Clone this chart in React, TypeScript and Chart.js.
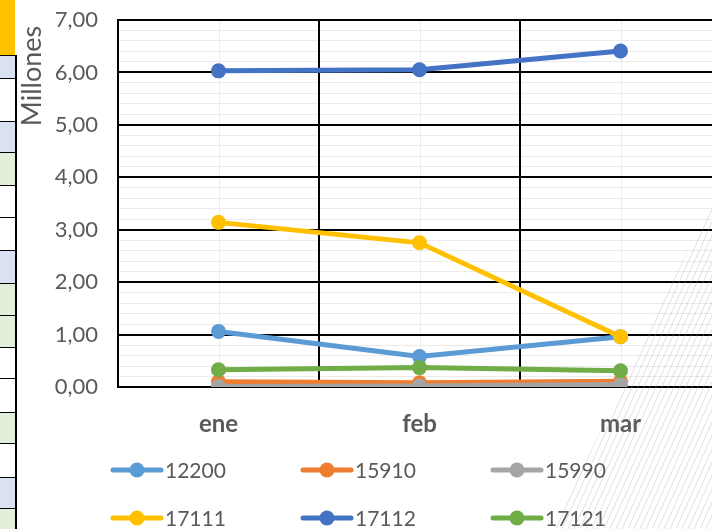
import React, { useEffect, useRef } from "react";
import { Chart, registerables } from "chart.js";

Chart.register(...registerables);

const categories = ["ene", "feb", "mar"];
const seriesNames = ["12200", "15910", "15990", "17111", "17112", "17121"];
const s12200 = [1.06, 0.58, 0.96];
const s15910 = [0.1, 0.08, 0.11];
const s15990 = [0.01, 0.02, 0.05];
const s17111 = [3.14, 2.75, 0.96];
const s17112 = [6.03, 6.05, 6.41];
const s17121 = [0.33, 0.37, 0.31];
const seriesValues = [s12200, s15910, s15990, s17111, s17112, s17121];
const seriesColors = ["#5B9BD5", "#ED7D31", "#A5A5A5", "#FFC000", "#4472C4", "#70AD47"];
const yMin = 0;
const yMax = 7;
const yStep = 0.2;
const axisUnitLabel = "Millones";

const FONT = "Lato, 'Open Sans', sans-serif";
const TEXT = "#595959";

const isMajor = (v: number) => Math.abs(v - Math.round(v)) < 1e-6;

const cellColors = [
  "#D9E1F2", "#FFFFFF", "#D9E1F2", "#E2EFDA", "#FFFFFF", "#FFFFFF", "#D9E1F2", "#E2EFDA",
  "#E2EFDA", "#FFFFFF", "#FFFFFF", "#E2EFDA", "#FFFFFF", "#D9E1F2", "#E2EFDA",
];
const cellEdges = [55, 78, 121, 152, 185, 217, 250, 283, 315, 347, 378, 412, 443, 477, 508, 540];

const decoPlugin = {
  id: "deco",
  beforeDraw(chart: any) {
    const { ctx, chartArea, scales } = chart;
    ctx.save();
    ctx.fillStyle = "#FFFFFF";
    ctx.fillRect(0, 0, chart.width, chart.height);
    ctx.strokeStyle = "#EBEBEB";
    ctx.lineWidth = 1;
    categories.forEach((_, i) => {
      const x = Math.round(scales.x.getPixelForValue(i)) + 0.5;
      ctx.beginPath();
      ctx.moveTo(x, chartArea.top);
      ctx.lineTo(x, chartArea.bottom);
      ctx.stroke();
    });
    ctx.restore();
  },
  afterDraw(chart: any) {
    const { ctx } = chart;
    ctx.save();
    ctx.translate(32, 76);
    ctx.rotate(-Math.PI / 2);
    ctx.fillStyle = TEXT;
    ctx.font = `27px ${FONT}`;
    ctx.textAlign = "center";
    ctx.textBaseline = "middle";
    ctx.fillText(axisUnitLabel, 0, 0);
    ctx.restore();

    ctx.save();
    seriesNames.forEach((name, i) => {
      const col = i % 3;
      const row = Math.floor(i / 3);
      const x0 = 113 + col * 190;
      const y = 470 + row * 48;
      ctx.strokeStyle = seriesColors[i];
      ctx.lineWidth = 5;
      ctx.lineCap = "round";
      ctx.beginPath();
      ctx.moveTo(x0, y);
      ctx.lineTo(x0 + 48, y);
      ctx.stroke();
      ctx.fillStyle = seriesColors[i];
      ctx.beginPath();
      ctx.arc(x0 + 24, y, 7.5, 0, Math.PI * 2);
      ctx.fill();
      ctx.fillStyle = TEXT;
      ctx.font = `21px ${FONT}`;
      ctx.textAlign = "left";
      ctx.textBaseline = "middle";
      ctx.fillText(name, x0 + 52, y + 1);
    });
    ctx.restore();

    ctx.save();
    ctx.beginPath();
    ctx.moveTo(712, 200);
    ctx.lineTo(740, 200);
    ctx.lineTo(740, 529);
    ctx.lineTo(553, 529);
    ctx.closePath();
    ctx.clip();
    ctx.strokeStyle = "rgba(165,165,165,0.5)";
    ctx.lineWidth = 0.7;
    for (let x = 400; x < 760; x += 6) {
      ctx.beginPath();
      ctx.moveTo(x, 529);
      ctx.lineTo(x + 0.45 * 340, 189);
      ctx.stroke();
    }
    ctx.restore();
  },
};

export default function App() {
  const ref = useRef<HTMLCanvasElement | null>(null);
  useEffect(() => {
    if (!ref.current) return;
    const chart = new Chart(ref.current, {
      type: "line",
      data: {
        labels: categories,
        datasets: seriesNames.map((name, i) => ({
          label: name,
          data: seriesValues[i],
          borderColor: seriesColors[i],
          backgroundColor: seriesColors[i],
          borderWidth: 5,
          pointRadius: 7.5,
          pointBorderWidth: 0,
          pointBackgroundColor: seriesColors[i],
          tension: 0,
          order: seriesNames.length - i,
        })),
      },
      options: {
        animation: false,
        responsive: false,
        devicePixelRatio: 1,
        layout: { padding: { left: 0, right: 19, top: 20, bottom: 0 } },
        plugins: { legend: { display: false }, tooltip: { enabled: false } },
        scales: {
          x: {
            type: "category",
            offset: true,
            grid: { offset: true, color: "#000000", lineWidth: 2, drawTicks: false, z: -1 },
            border: { display: true, color: "#000000", width: 2 },
            ticks: {
              padding: 23,
              color: TEXT,
              font: { family: FONT, size: 24, weight: "bold" },
            },
            afterFit: (s: any) => {
              s.height = 142;
              s.paddingLeft = 0;
              s.paddingRight = 0;
            },
          },
          y: {
            type: "linear",
            min: yMin,
            max: yMax,
            grid: {
              z: -2,
              drawTicks: false,
              color: (c: any) => (c.tick && isMajor(c.tick.value) ? "#000000" : "#EBEBEB"),
              lineWidth: (c: any) => (c.tick && isMajor(c.tick.value) ? 2 : 1),
            },
            border: { display: true, color: "#000000", width: 2 },
            ticks: {
              stepSize: yStep,
              autoSkip: false,
              padding: 20,
              color: TEXT,
              font: { family: FONT, size: 22 },
              callback: (v: any) => (isMajor(Number(v)) ? Number(v).toFixed(2).replace(".", ",") : ""),
            },
            afterFit: (s: any) => {
              s.width = 118;
              s.paddingTop = 0;
              s.paddingBottom = 0;
            },
          },
        },
      },
      plugins: [decoPlugin],
    });
    return () => chart.destroy();
  }, []);

  return (
    <div style={{ position: "fixed", left: 0, top: 0, width: 712, height: 529, overflow: "hidden", background: "#fff" }}>
      <canvas ref={ref} width={740} height={529} style={{ display: "block", width: 740, height: 529 }} />
      <div style={{ position: "absolute", left: 0, top: 0, width: 15, height: 55, background: "#FFC000" }} />
      {cellColors.map((c, i) => (
        <div
          key={i}
          style={{
            position: "absolute",
            left: 0,
            top: cellEdges[i],
            width: 15,
            height: cellEdges[i + 1] - cellEdges[i] - 1,
            background: c,
            borderTop: "1px solid #000",
            borderRight: "2px solid #000",
          }}
        />
      ))}
    </div>
  );
}
